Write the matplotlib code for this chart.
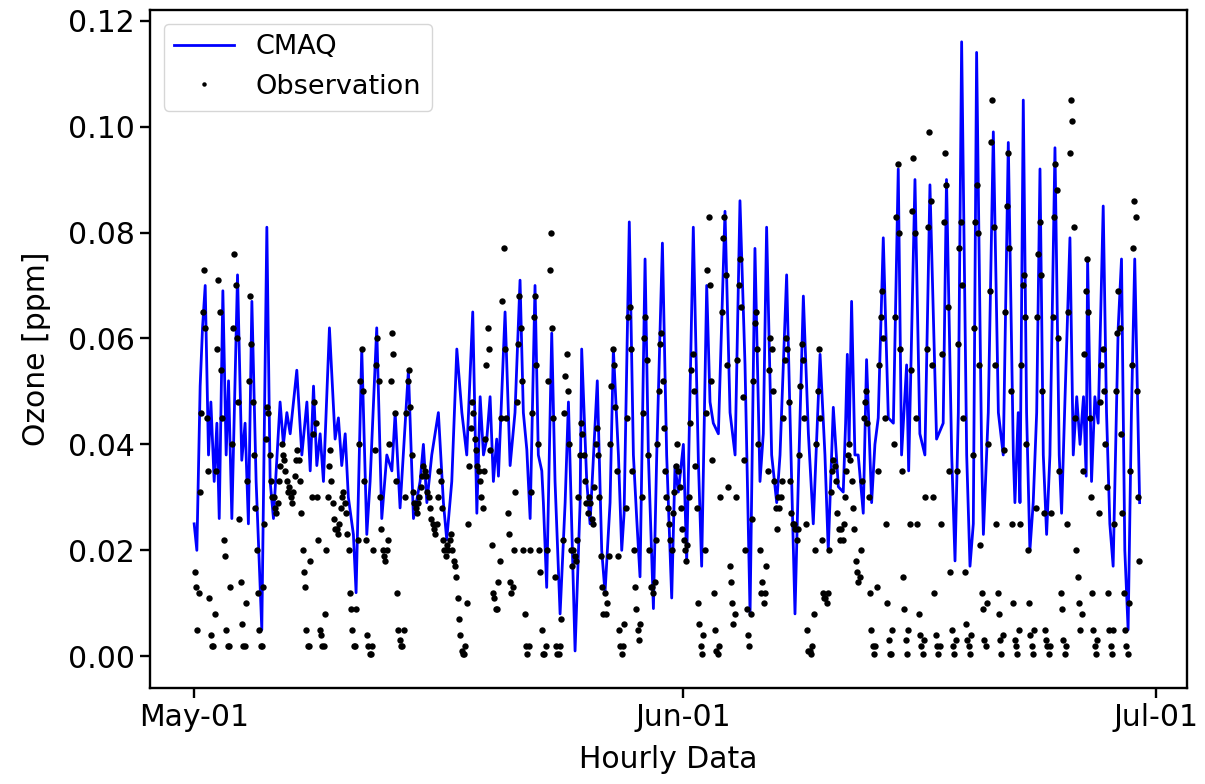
import numpy as np
import pandas as pd
import matplotlib
matplotlib.use('Agg')
import matplotlib.pyplot as plt
import matplotlib.dates as mdates

# CMAQ model ozone, turning points of the hourly series (days after May-01, ppb)
cmaq_day = [
    0.00, 0.17, 0.38, 0.53, 0.70, 0.91, 1.06, 1.27, 1.44, 1.59,
    1.82, 2.03, 2.18, 2.39, 2.75, 3.02, 3.23, 3.44, 3.66, 3.93,
    4.29, 4.61, 4.82, 5.03, 5.45, 5.66, 5.88, 6.09, 6.51, 6.83,
    7.15, 7.36, 7.57, 7.78, 7.99, 8.20, 8.58, 8.94, 9.15, 9.36,
    9.58, 9.78, 10.10, 10.27, 10.63, 10.95, 11.16, 11.58, 11.90, 12.22,
    12.54, 12.75, 13.06, 13.59, 13.91, 14.33, 14.54, 14.76, 15.07, 15.49,
    15.81, 16.02, 16.34, 16.66, 16.98, 17.29, 17.67, 17.93, 18.14, 18.35,
    18.56, 18.77, 18.98, 19.19, 19.30, 19.72, 19.93, 20.04, 20.35, 20.67,
    20.88, 21.10, 21.31, 21.62, 21.83, 22.05, 22.15, 22.36, 22.68, 22.89,
    23.21, 23.53, 23.74, 24.16, 24.48, 24.58, 24.90, 25.11, 25.57, 25.85,
    26.06, 26.38, 26.59, 26.91, 27.12, 27.27, 27.60, 27.86, 28.07, 28.28,
    28.60, 28.81, 29.13, 29.34, 29.70, 29.97, 30.29, 30.50, 30.71, 31.03,
    31.24, 31.66, 31.98, 32.19, 32.51, 32.72, 32.93, 33.25, 33.67, 33.99,
    34.31, 34.62, 34.94, 35.26, 35.57, 35.89, 36.10, 36.31, 36.63, 36.95,
    37.16, 37.58, 37.79, 38.11, 38.32, 38.64, 38.96, 39.27, 39.70, 40.01,
    40.22, 40.54, 40.86, 41.17, 41.32, 41.43, 41.54, 41.70, 41.91, 42.12,
    42.44, 42.65, 42.97, 43.18, 43.39, 43.71, 44.03, 44.35, 44.66, 44.87,
    45.19, 45.32, 45.72, 46.03, 46.35, 46.67, 47.09, 47.51, 47.72, 48.05,
    48.26, 48.47, 48.68, 49.00, 49.21, 49.42, 49.63, 49.95, 50.06, 50.37,
    50.69, 51.01, 51.32, 51.64, 51.96, 52.06, 52.27, 52.38, 52.59, 52.80,
    53.01, 53.22, 53.44, 53.65, 53.86, 54.07, 54.28, 54.60, 54.87, 55.02,
    55.23, 55.55, 55.76, 55.98, 56.19, 56.41, 56.58, 56.67, 56.92, 57.13,
    57.34, 57.66, 57.87, 58.08, 58.29, 58.61, 58.82, 59.03, 59.24, 59.45,
    59.66, 59.97,
]
cmaq_ppb = [
    25, 20, 51, 62, 70, 38, 48, 33, 44, 26,
    69, 38, 52, 26, 72, 37, 44, 25, 67, 33,
    5, 81, 33, 26, 48, 40, 46, 42, 54, 38,
    48, 35, 51, 36, 42, 33, 62, 41, 45, 36,
    42, 30, 23, 12, 58, 23, 33, 62, 26, 38,
    35, 46, 28, 54, 26, 33, 40, 29, 38, 46,
    29, 22, 33, 58, 46, 38, 65, 27, 49, 38,
    41, 49, 33, 41, 34, 65, 46, 36, 46, 71,
    46, 39, 26, 70, 38, 35, 29, 13, 61, 33,
    8, 29, 48, 1, 29, 58, 33, 25, 52, 20,
    12, 29, 58, 38, 20, 27, 82, 38, 26, 15,
    75, 38, 9, 38, 78, 38, 11, 36, 31, 40,
    18, 81, 37, 17, 70, 48, 44, 42, 84, 46,
    38, 86, 55, 8, 77, 33, 42, 81, 38, 29,
    38, 72, 46, 8, 33, 68, 42, 25, 57, 38,
    20, 47, 32, 31, 44, 57, 40, 67, 38, 38,
    27, 56, 29, 40, 45, 79, 45, 44, 92, 38,
    55, 35, 90, 42, 38, 89, 41, 44, 90, 38,
    18, 46, 116, 38, 17, 25, 114, 38, 23, 46,
    99, 46, 38, 97, 38, 29, 46, 29, 105, 46,
    20, 29, 46, 92, 38, 23, 38, 96, 38, 27,
    48, 79, 38, 49, 40, 49, 34, 75, 33, 49,
    44, 85, 46, 25, 17, 62, 75, 20, 5, 46,
    75, 29,
]

# observed ozone, one row per day, two-hourly readings (ppb)
obs_hour = [1, 3, 5, 7, 9, 11, 13, 15, 17, 19, 21, 23]
obs_ppb = [
    [16, 13, 5, 12, 31, 46, 65, 73, 62, 45, 35, 11],
    [4, 2, 2, 8, 35, 58, 71, 65, 54, 45, 22, 19],
    [5, 2, 2, 13, 40, 62, 76, 70, 60, 48, 26, 14],
    [6, 2, 2, 10, 33, 52, 68, 59, 48, 38, 28, 20],
    [12, 5, 2, 2, 13, 25, 41, 47, 46, 38, 33, 30],
    [30, 28, 27, 29, 33, 36, 40, 38, 37, 35, 33, 31],
    [32, 30, 29, 31, 34, 37, 39, 37, 33, 27, 20, 16],
    [13, 5, 2, 2, 18, 30, 42, 48, 44, 30, 22, 5],
    [4, 2, 2, 8, 20, 30, 36, 39, 33, 29, 26, 24],
    [24, 23, 25, 28, 30, 31, 29, 27, 23, 20, 12, 9],
    [5, 2, 2, 9, 22, 40, 52, 58, 50, 33, 22, 4],
    [2, 0.5, 0.5, 2, 20, 39, 55, 60, 52, 30, 24, 20],
    [19, 18, 20, 22, 40, 52, 61, 57, 46, 33, 12, 5],
    [3, 2, 2, 5, 30, 46, 52, 54, 47, 38, 31, 29],
    [28, 27, 29, 30, 32, 34, 36, 35, 34, 31, 30, 28],
    [26, 25, 24, 23, 25, 30, 35, 33, 28, 22, 20, 19],
    [21, 20, 22, 23, 20, 18, 17, 15, 11, 7, 4, 1],
    [0.5, 0.5, 2, 10, 25, 36, 43, 48, 46, 41, 39, 36],
    [35, 33, 30, 28, 35, 41, 55, 62, 58, 39, 21, 12],
    [11, 9, 9, 14, 18, 45, 67, 77, 58, 45, 27, 23],
    [14, 12, 13, 20, 31, 48, 59, 68, 62, 52, 20, 8],
    [2, 0.5, 2, 20, 31, 46, 64, 68, 55, 40, 20, 16],
    [5, 0.5, 0.5, 2, 20, 52, 73, 80, 62, 45, 15, 2],
    [0.5, 0.5, 2, 7, 22, 46, 53, 57, 50, 40, 20, 17],
    [20, 19, 18, 22, 30, 38, 44, 42, 38, 33, 29, 27],
    [30, 29, 26, 25, 32, 40, 43, 38, 30, 19, 13, 8],
    [12, 8, 10, 19, 40, 51, 58, 55, 47, 35, 19, 5],
    [2, 0.5, 2, 6, 28, 45, 64, 66, 58, 35, 20, 13],
    [9, 5, 3, 6, 30, 46, 60, 64, 56, 38, 20, 13],
    [13, 12, 14, 22, 40, 50, 59, 61, 52, 43, 35, 30],
    [28, 25, 22, 20, 27, 31, 36, 40, 35, 32, 28, 24],
    [22, 20, 18, 21, 30, 44, 54, 57, 50, 36, 28, 10],
    [6, 2, 0.5, 4, 20, 46, 73, 83, 70, 52, 37, 12],
    [5, 1, 0.5, 2, 30, 65, 79, 83, 72, 55, 32, 17],
    [14, 10, 6, 8, 30, 56, 70, 75, 66, 49, 37, 20],
    [9, 4, 2, 8, 26, 52, 63, 65, 58, 40, 20, 12],
    [14, 10, 12, 17, 35, 54, 60, 58, 50, 33, 28, 24],
    [30, 28, 30, 33, 45, 56, 60, 58, 48, 33, 27, 25],
    [25, 24, 22, 24, 38, 51, 59, 56, 45, 25, 5, 1],
    [1, 0.5, 2, 8, 20, 40, 50, 58, 45, 22, 12, 11],
    [11, 10, 12, 20, 31, 35, 37, 36, 33, 27, 24, 22],
    [24, 22, 25, 30, 35, 38, 40, 37, 33, 28, 24, 18],
    [16, 14, 15, 20, 33, 45, 48, 50, 44, 30, 12, 5],
    [2, 0.5, 2, 13, 35, 55, 64, 69, 60, 45, 25, 10],
    [3, 0.5, 0.5, 5, 40, 64, 83, 93, 80, 58, 35, 15],
    [9, 3, 0.5, 5, 25, 54, 84, 94, 80, 45, 25, 8],
    [4, 2, 0.5, 3, 30, 58, 81, 99, 86, 55, 30, 12],
    [4, 2, 0.5, 2, 25, 57, 82, 95, 89, 66, 35, 16],
    [5, 2, 0.5, 3, 35, 59, 77, 82, 70, 45, 16, 6],
    [3, 2, 0.5, 4, 38, 62, 82, 89, 80, 55, 21, 12],
    [9, 3, 2, 10, 40, 69, 97, 105, 81, 55, 25, 12],
    [8, 3, 0.5, 4, 39, 65, 85, 95, 77, 50, 25, 10],
    [3, 2, 0.5, 5, 25, 55, 70, 72, 64, 40, 20, 10],
    [4, 2, 0.5, 5, 28, 64, 76, 82, 72, 50, 27, 5],
    [3, 2, 0.5, 2, 27, 64, 83, 93, 88, 60, 35, 12],
    [9, 3, 0.5, 2, 25, 65, 95, 105, 101, 81, 45, 20],
    [15, 10, 5, 8, 35, 57, 69, 75, 65, 45, 30, 12],
    [5, 2, 0.5, 3, 27, 48, 55, 58, 50, 40, 32, 12],
    [5, 2, 0.5, 5, 25, 50, 61, 69, 62, 42, 27, 12],
    [5, 2, 0.5, 10, 35, 55, 77, 86, 83, 50, 30, 18],
]

start = pd.Timestamp('2018-05-01')

cmaq_time = start + pd.to_timedelta(np.array(cmaq_day), unit='D')
cmaq = np.array(cmaq_ppb) / 1000.0

obs_time = []
obs = []
for day, row in enumerate(obs_ppb):
    for hour, val in zip(obs_hour, row):
        obs_time.append(start + pd.Timedelta(days=day, hours=hour))
        obs.append(val / 1000.0)

plt.rcParams['font.size'] = 21.5
plt.rcParams['axes.linewidth'] = 1.7

fig = plt.figure(figsize=(12.05, 7.84), dpi=100)
ax = fig.add_axes([0.1245, 0.1224, 0.8605, 0.8648])

ax.plot(cmaq_time, cmaq, color='b', lw=2.0, label='CMAQ')
ax.plot(obs_time, obs, 'o', color='k', ms=4.6, mew=0, label='Observation')

ax.set_xlim(start - pd.Timedelta(days=2.8), pd.Timestamp('2018-07-01') + pd.Timedelta(days=1.97))
ax.set_ylim(-0.006, 0.122)
ax.set_xticks([pd.Timestamp('2018-05-01'), pd.Timestamp('2018-06-01'), pd.Timestamp('2018-07-01')])
ax.xaxis.set_major_formatter(mdates.DateFormatter('%b-%d'))
ax.set_yticks(np.arange(0, 0.121, 0.02))
ax.yaxis.set_major_formatter(plt.FormatStrFormatter('%.2f'))
ax.tick_params(length=7.5, width=1.7)

ax.set_xlabel('Hourly Data', labelpad=9)
ax.set_ylabel('Ozone [ppm]', labelpad=12)
ax.legend(loc='upper left', fontsize=19.5, handlelength=2.2, markerscale=0.7)

fig.savefig('out.png', dpi=100)
